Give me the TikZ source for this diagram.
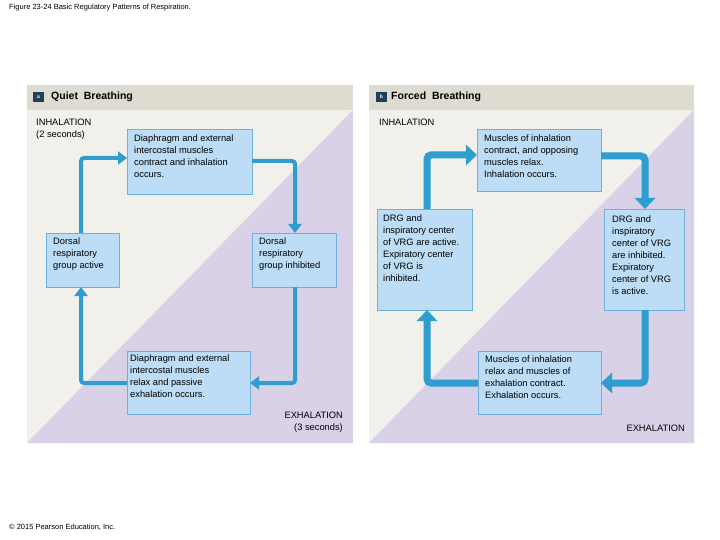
\documentclass[tikz,border=0pt]{standalone}
\usepackage{fontspec}
\setmainfont{Liberation Sans}
\usetikzlibrary{arrows.meta}
\definecolor{hdr}{HTML}{DEDCD0}
\definecolor{cream}{HTML}{F1F0EA}
\definecolor{lav}{HTML}{D9D1E7}
\definecolor{boxf}{HTML}{BCDDF5}
\definecolor{boxd}{HTML}{6DB2DE}
\definecolor{arr}{HTML}{2E9DD0}
\definecolor{badge}{HTML}{1F3F5A}
\begin{document}
\begin{tikzpicture}[x=1pt,y=-1pt,
  box/.style={draw=boxd,fill=boxf,line width=0.8pt,inner sep=0pt},
  txt/.style={font=\fontsize{9.3}{12}\selectfont,align=left,anchor=north west,inner sep=0pt},
  lbl/.style={font=\fontsize{9.3}{12}\selectfont,inner sep=0pt},
  thin/.style={draw=arr,line width=4pt,rounded corners=3pt,-{Triangle[length=9pt,width=13pt]}},
  thick/.style={draw=arr,line width=7pt,rounded corners=4pt,-{Triangle[length=11pt,width=20pt]}},
  head/.style={font=\bfseries\fontsize{10.5}{12}\selectfont,anchor=west,inner sep=0pt}]
\useasboundingbox (0,0) rectangle (720,540);
\fill[white] (0,0) rectangle (720,540);
\node[anchor=west,font=\fontsize{7.5}{8}\selectfont,inner sep=0pt] (title) at (9,8) {Figure 23-24 Basic Regulatory Patterns of Respiration.};
\node[anchor=west,font=\fontsize{7.5}{8}\selectfont,inner sep=0pt] (copy) at (9,527) {© 2015 Pearson Education, Inc.};
% panel a
\fill[cream] (27,110) rectangle (353,443);
\fill[lav] (353,110) -- (353,443) -- (27,443) -- cycle;
\fill[hdr] (27,85) rectangle (353,110);
\fill[badge] (33,92) rectangle (44,102);
\node[font=\bfseries\fontsize{5}{5}\selectfont,text=white,inner sep=0pt] (ba) at (38.5,97) {a};
\node[head] (ha) at (51,97) {Quiet\ \ Breathing};
\node[lbl,anchor=north west,align=left] (ia) at (36,119) {INHALATION\\(2 seconds)};
\node[lbl,anchor=north east,align=right] (ea) at (343,412) {EXHALATION\\(3 seconds)};
\path[box] (127,129) rectangle (252,194);
\node[txt] (a1) at (134,135) {Diaphragm and external\\intercostal muscles\\contract and inhalation\\occurs.};
\path[box] (46,233) rectangle (119,287);
\node[txt] (a2) at (53,238) {Dorsal\\respiratory\\group active};
\path[box] (252,233) rectangle (336,287);
\node[txt] (a3) at (259,238) {Dorsal\\respiratory\\group inhibited};
\path[box] (127,351) rectangle (250,414);
\node[txt] (a4) at (130,355) {Diaphragm and external\\intercostal muscles\\relax and passive\\exhalation occurs.};
\draw[thin] (81,233) -- (81,158) -- (127,158);
\draw[thin] (252,161) -- (295,161) -- (295,233);
\draw[thin] (295,287) -- (295,383) -- (250,383);
\draw[thin] (127,383) -- (81,383) -- (81,287);
% panel b
\fill[cream] (369,110) rectangle (694,443);
\fill[lav] (694,110) -- (694,443) -- (369,443) -- cycle;
\fill[hdr] (369,85) rectangle (694,110);
\fill[badge] (376,92) rectangle (387,102);
\node[font=\bfseries\fontsize{5}{5}\selectfont,text=white,inner sep=0pt] (bb) at (381.5,97) {b};
\node[head] (hb) at (391,97) {Forced\ \ Breathing};
\node[lbl,anchor=north west] (ib) at (379,119) {INHALATION};
\node[lbl,anchor=north east] (eb) at (685,425) {EXHALATION};
\path[box] (477,129) rectangle (601,191);
\node[txt] (b1) at (484,135) {Muscles of inhalation\\contract, and opposing\\muscles relax.\\Inhalation occurs.};
\path[box] (377,209) rectangle (472,310);
\node[txt] (b2) at (383,215) {DRG and\\inspiratory center\\of VRG are active.\\Expiratory center\\of VRG is\\inhibited.};
\path[box] (604,209) rectangle (684,310);
\node[txt] (b3) at (612,216) {DRG and\\inspiratory\\center of VRG\\are inhibited.\\Expiratory\\center of VRG\\is active.};
\path[box] (478,351) rectangle (601,414);
\node[txt] (b4) at (485,356) {Muscles of inhalation\\relax and muscles of\\exhalation contract.\\Exhalation occurs.};
\draw[thick] (427,209) -- (427,155) -- (477,155);
\draw[thick] (601,156) -- (645,156) -- (645,209);
\draw[thick] (645,310) -- (645,383) -- (601,383);
\draw[thick] (478,383) -- (427,383) -- (427,310);
\end{tikzpicture}
\end{document}
